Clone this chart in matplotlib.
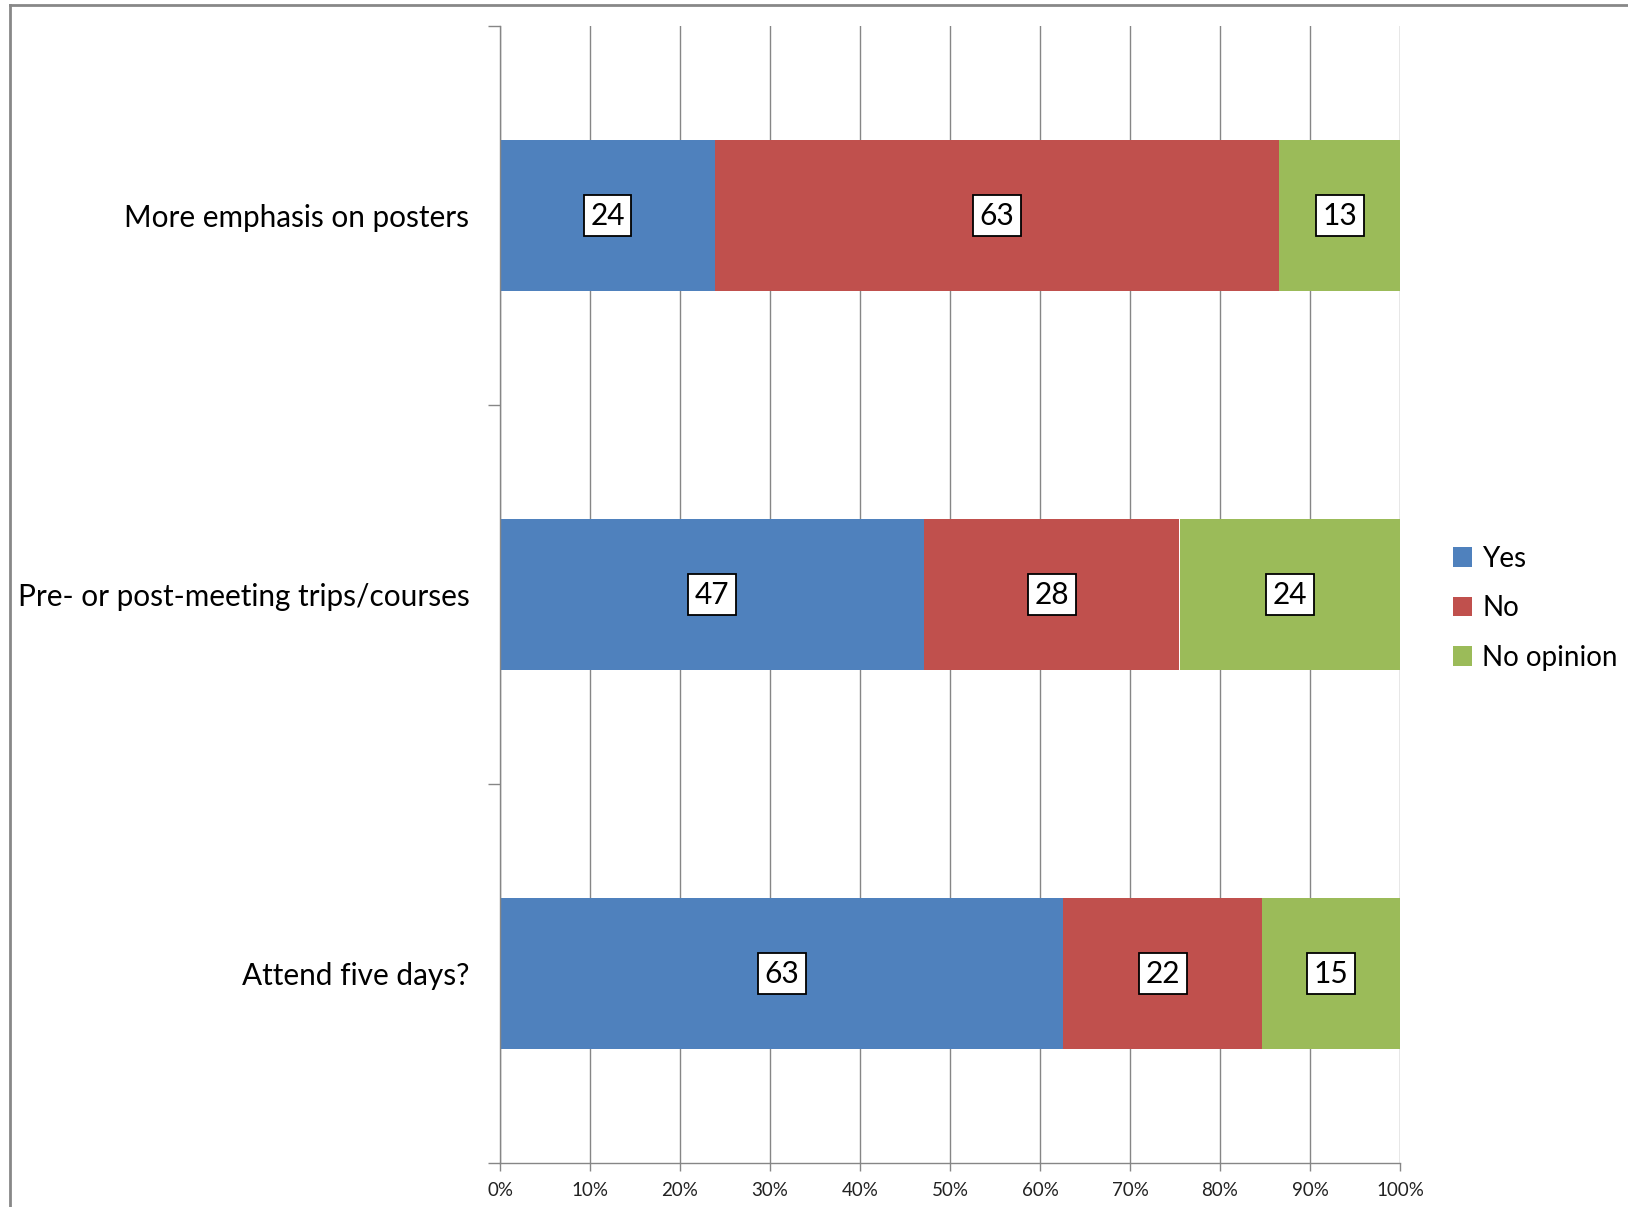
import matplotlib.pyplot as plt
import numpy as np
from matplotlib.patches import Patch
from matplotlib.lines import Line2D

plt.rcParams['font.family'] = ['Lato', 'DejaVu Sans']

# 数据
categories = ['More emphasis on posters', 'Pre- or post-meeting trips/courses', 'Attend five days?']
series = ['Yes', 'No', 'No opinion']
yes = [23.9, 47.1, 62.6]
no = [62.7, 28.4, 22.1]
no_opinion = [13.4, 24.5, 15.3]
x_ticks = [0, 10, 20, 30, 40, 50, 60, 70, 80, 90, 100]
x_tick_labels = [f'{t}%' for t in x_ticks]

colors = ['#4F81BD', '#C0504D', '#9BBB59']
grid_color = '#868686'


def main():
    fig = plt.figure(figsize=(16.28, 12.07), dpi=100)
    ax = fig.add_axes([500 / 1628, 44 / 1207, 900 / 1628, 1137 / 1207])

    data = np.array([yes, no, no_opinion])
    shares = data / data.sum(axis=0) * 100  # 百分比堆叠
    ypos = np.arange(len(categories))
    left = np.zeros(len(categories))
    for i, name in enumerate(series):
        ax.barh(ypos, shares[i], left=left, height=0.4, color=colors[i],
                label=name, zorder=2)
        for y, l, w, v in zip(ypos, left, shares[i], data[i]):
            ax.text(l + w / 2, y, f'{v:.0f}', ha='center', va='center',
                    fontsize=21.5, color='black', zorder=3,
                    bbox=dict(boxstyle='square,pad=0.22', fc='white',
                              ec='black', lw=1.3))
        left += shares[i]

    ax.set_xlim(0, 100)
    ax.set_ylim(len(categories) - 0.5, -0.5)
    ax.set_xticks(x_ticks)
    ax.set_xticklabels(x_tick_labels, fontsize=13.5, color='#222222')
    ax.tick_params(axis='x', length=6, width=1, color=grid_color, pad=8)
    ax.xaxis.grid(True, color=grid_color, lw=1, zorder=0)

    ax.set_yticks(np.arange(len(categories) + 1) - 0.5)
    ax.set_yticklabels([])
    ax.tick_params(axis='y', which='major', length=9, width=1, color=grid_color)
    ax.set_yticks(ypos, minor=True)
    ax.set_yticklabels(categories, minor=True, fontsize=21.4)
    ax.tick_params(axis='y', which='minor', length=0, pad=22)

    for s in ['top', 'right']:
        ax.spines[s].set_visible(False)
    for s in ['left', 'bottom']:
        ax.spines[s].set_color(grid_color)
        ax.spines[s].set_linewidth(1)

    handles = [Patch(facecolor=c, edgecolor='none') for c in colors]
    fig.legend(handles, series, loc='center left', bbox_to_anchor=(1428 / 1628, 0.496),
               frameon=False, fontsize=20, handlelength=0.7, handleheight=0.7,
               handletextpad=0.35, labelspacing=0.85)

    # 外框
    fig.add_artist(Line2D([10 / 1628, 10 / 1628], [0, 1 - 5 / 1207],
                          transform=fig.transFigure, color='#888888', lw=2))
    fig.add_artist(Line2D([10 / 1628, 1], [1 - 5 / 1207, 1 - 5 / 1207],
                          transform=fig.transFigure, color='#888888', lw=2))

    fig.savefig('out.png', dpi=100)


if __name__ == "__main__":
    main()
